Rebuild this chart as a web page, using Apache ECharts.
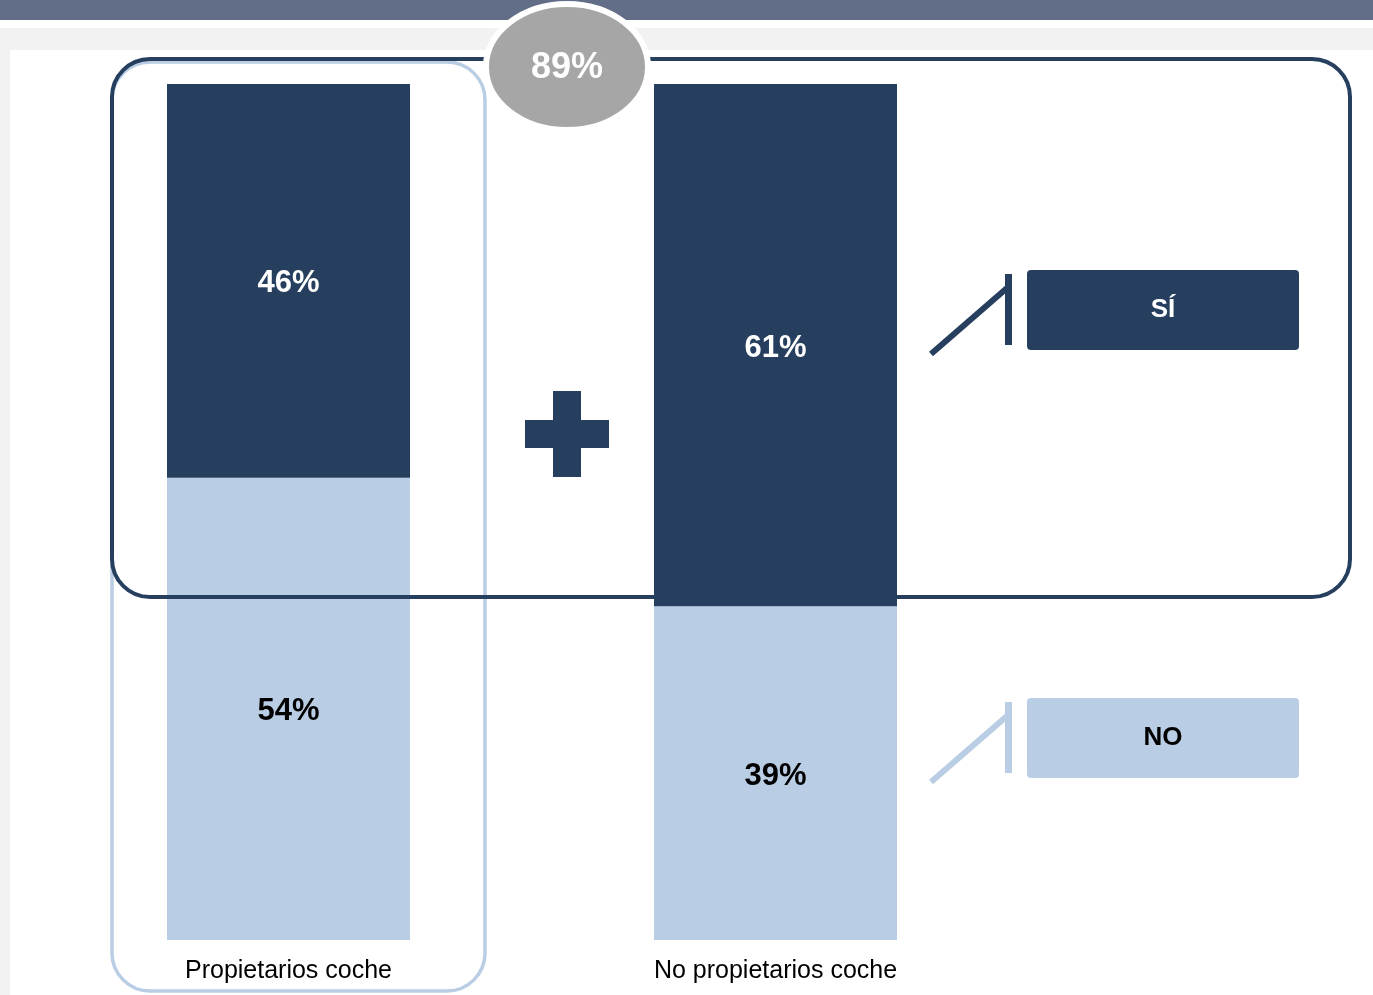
<!DOCTYPE html>
<html>
<head>
<meta charset="utf-8">
<style>
  html, body { margin: 0; padding: 0; background: #ffffff; }
  #chart { width: 1373px; height: 995px; }
</style>
<script src="https://cdn.jsdelivr.net/npm/echarts@6/dist/echarts.min.js"></script>
</head>
<body>
<div id="chart"></div>
<script>
// Car ownership groups and the share answering each option
const categories = ['Propietarios coche', 'No propietarios coche'];
const seriesNames = ['SÍ', 'NO'];
const siValues = [46, 61];
const noValues = [54, 39];
const totalLabel = '89%';

const DARK = '#263f5f';
const LIGHT = '#b9cde4';
const FONT = '"Liberation Sans", Arial, sans-serif';

const chart = echarts.init(document.getElementById('chart'));

// Legend key with a slanted connector, drawn beside the bars
function legendKey(y, color, textColor, name) {
  return [
    {
      type: 'polyline', z: 50,
      shape: { points: [[931, y + 84], [1007, y + 18]] },
      style: { stroke: color, lineWidth: 6, fill: null }
    },
    {
      type: 'rect', z: 50,
      shape: { x: 1005, y: y + 4, width: 7, height: 71 },
      style: { fill: color }
    },
    {
      type: 'rect', z: 50,
      shape: { x: 1027, y: y, width: 272, height: 80, r: 4 },
      style: { fill: color }
    },
    {
      type: 'text', z: 51,
      x: 1163, y: y + 40,
      style: {
        text: name, fill: textColor, font: 'bold 26px ' + FONT,
        align: 'center', verticalAlign: 'middle'
      }
    }
  ];
}

const barLabel = (color) => ({
  show: true, position: 'inside', formatter: '{c}%', offset: [0, 3],
  color: color, fontFamily: FONT, fontWeight: 'bold', fontSize: 31
});

const option = {
  backgroundColor: '#ffffff',
  animation: false,
  grid: { left: 45, right: 354, top: 84, bottom: 55 },
  xAxis: {
    type: 'category',
    data: categories,
    axisLine: { show: false },
    axisTick: { show: false },
    axisLabel: {
      margin: 19,
      color: '#000000',
      fontFamily: FONT,
      fontSize: 25
    }
  },
  yAxis: {
    type: 'value', min: 0, max: 100,
    show: false,
    splitLine: { show: false }
  },
  series: [
    {
      name: seriesNames[1], type: 'bar', stack: 'total',
      barWidth: 243, z: 10,
      data: noValues,
      itemStyle: { color: LIGHT },
      label: barLabel('#000000')
    },
    {
      name: seriesNames[0], type: 'bar', stack: 'total',
      barWidth: 243, z: 10,
      data: siValues,
      itemStyle: { color: DARK },
      label: barLabel('#ffffff')
    }
  ],
  graphic: [
    // page frame: header band, grey margin, white panel
    { type: 'rect', z: -10, shape: { x: 0, y: 28, width: 1373, height: 967 }, style: { fill: '#f2f2f2' } },
    { type: 'rect', z: -9, shape: { x: 10, y: 50, width: 1363, height: 945 }, style: { fill: '#ffffff' } },
    { type: 'rect', z: -8, shape: { x: 0, y: 0, width: 1373, height: 20 }, style: { fill: '#626e87' } },
    // outline around the car owners column
    {
      type: 'rect', z: 40,
      shape: { x: 112, y: 62, width: 373, height: 929, r: 38 },
      style: { fill: null, stroke: LIGHT, lineWidth: 3.5 }
    },
    // outline around the "SÍ" answers of both groups
    {
      type: 'rect', z: 45,
      shape: { x: 112, y: 59, width: 1238, height: 538, r: 38 },
      style: { fill: null, stroke: DARK, lineWidth: 4 }
    },
    // combined total badge
    {
      type: 'ellipse', z: 60,
      shape: { cx: 567, cy: 67, rx: 81, ry: 63 },
      style: { fill: '#a6a6a6', stroke: '#ffffff', lineWidth: 6 }
    },
    {
      type: 'text', z: 61,
      x: 567, y: 68,
      style: {
        text: totalLabel, fill: '#ffffff', font: 'bold 36px ' + FONT,
        align: 'center', verticalAlign: 'middle'
      }
    },
    // plus sign between the columns
    { type: 'rect', z: 50, shape: { x: 553, y: 391, width: 28, height: 86 }, style: { fill: DARK } },
    { type: 'rect', z: 50, shape: { x: 525, y: 420, width: 84, height: 28 }, style: { fill: DARK } },
    ...legendKey(270, DARK, '#ffffff', seriesNames[0]),
    ...legendKey(698, LIGHT, '#000000', seriesNames[1])
  ]
};

chart.setOption(option);
</script>
</body>
</html>
